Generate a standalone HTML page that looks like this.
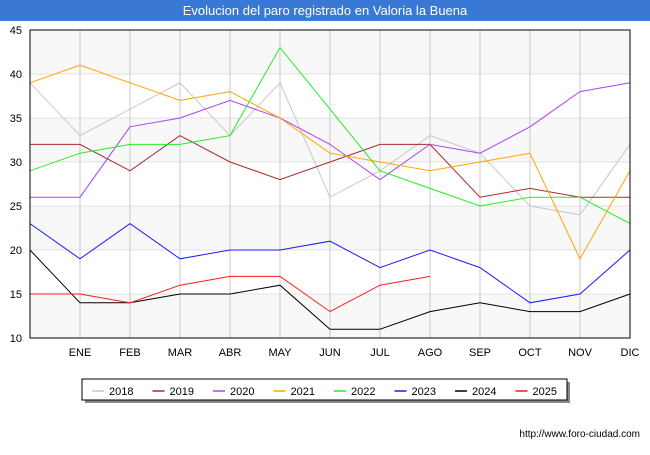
<!DOCTYPE html>
<html><head><meta charset="utf-8"><style>
body{margin:0;background:#fff;font-family:"Liberation Sans",sans-serif;}
</style></head><body>
<svg width="650" height="450" xmlns="http://www.w3.org/2000/svg" font-family="Liberation Sans, sans-serif">
<rect x="0" y="0" width="650" height="450" fill="#fff"/>
<rect x="0" y="0" width="650" height="21" fill="#3a78d6"/>
<text x="325" y="15" text-anchor="middle" font-size="13" fill="#fff">Evolucion del paro registrado en Valoria la Buena</text>
<g id="grid"></g>
<g id="series"></g>
<rect x="30" y="30" width="600" height="308" fill="none" stroke="#000" stroke-width="1"/>
<g id="axes" font-size="11" fill="#000"></g>
<rect x="85" y="382" width="485" height="21" fill="#888"/>
<rect x="82" y="379" width="485" height="21" fill="#fff" stroke="#000" stroke-width="1"/>
<g id="legend" font-size="11"></g>
<text x="640" y="437" text-anchor="end" font-size="10" fill="#000">http://www.foro-ciudad.com</text>
</svg>
<script>
const months=["","ENE","FEB","MAR","ABR","MAY","JUN","JUL","AGO","SEP","OCT","NOV","DIC"];
const yTicks=[10,15,20,25,30,35,40,45];
const years=["2018","2019","2020","2021","2022","2023","2024","2025"];
const colors=["#c8c8c8","#aa2a2a","#aa44ee","#ffa500","#22ee22","#1a1aff","#000000","#ff1a1a"];
const s2018=[39,33,36,39,33,39,26,29,33,31,25,24,32];
const s2019=[32,32,29,33,30,28,30,32,32,26,27,26,26];
const s2020=[26,26,34,35,37,35,32,28,32,31,34,38,39];
const s2021=[39,41,39,37,38,35,31,30,29,30,31,19,29];
const s2022=[29,31,32,32,33,43,36,29,27,25,26,26,23];
const s2023=[23,19,23,19,20,20,21,18,20,18,14,15,20];
const s2024=[20,14,14,15,15,16,11,11,13,14,13,13,15];
const s2025=[15,15,14,16,17,17,13,16,17];
const allSeries=[s2018,s2019,s2020,s2021,s2022,s2023,s2024,s2025];
const NS="http://www.w3.org/2000/svg";
const X=i=>30+i*50, Y=v=>338-(v-10)*308/35;
const grid=document.getElementById('grid'),axes=document.getElementById('axes'),ser=document.getElementById('series'),leg=document.getElementById('legend');
function mk(tag,attrs,parent){const e=document.createElementNS(NS,tag);for(const k in attrs)e.setAttribute(k,attrs[k]);parent.appendChild(e);return e;}
for(let i=0;i<yTicks.length-1;i++){
  const r=mk('rect',{x:30,y:Y(yTicks[i+1]),width:600,height:Y(yTicks[i])-Y(yTicks[i+1]),fill:(i%2==0)?'#f8f8f8':'#ffffff'},grid);
  
  
}
yTicks.forEach(v=>{
  const l=mk('line',{x1:30,x2:630,y1:Y(v),y2:Y(v),stroke:'#e0e0e0'},grid);
  
  
  const t=mk('text',{x:22,y:Y(v)+4,'text-anchor':'end'},axes);t.textContent=v;
  
  
});
months.forEach((m,i)=>{
  if(i>0){const l=mk('line',{x1:X(i),x2:X(i),y1:30,y2:338,stroke:'#c8c8c8'},grid);
  
  }
  if(m){const t=mk('text',{x:X(i),y:356,'text-anchor':'middle'},axes);t.textContent=m;
  
  }
});
allSeries.forEach((s,k)=>{
  const p=mk('polyline',{points:s.map((v,i)=>X(i)+','+Y(v)).join(' '),fill:'none',stroke:colors[k],'stroke-width':1},ser);
  
  
});
years.forEach((y,k)=>{
  const x0=92+k*60.5;
  const l=mk('line',{x1:x0,x2:x0+12,y1:391,y2:391,stroke:colors[k],'stroke-width':1.5},leg);
  
  
  const t=mk('text',{x:x0+17,y:395},leg);t.textContent=y;
  
  
});
</script>
</body></html>
